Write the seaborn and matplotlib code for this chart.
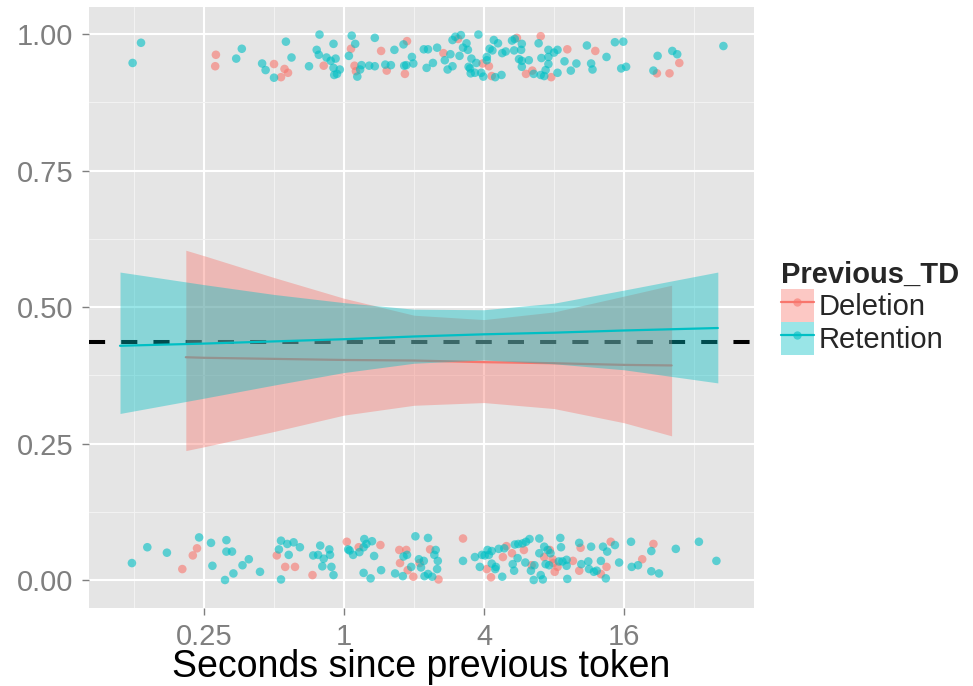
import numpy as np
import pandas as pd
import matplotlib
matplotlib.use("Agg")
import matplotlib.pyplot as plt
import seaborn as sns
from matplotlib.lines import Line2D
from matplotlib.patches import Patch

# ---------------------------------------------------------------------------
# Data: jittered observations (x stored as log2 of seconds, y = jittered outcome)
# ---------------------------------------------------------------------------
groups = ["Deletion", "Retention"]
palette = {"Deletion": "#F8766D", "Retention": "#00BFC4"}

retention_top_log2 = [
    -3.02, -2.90, -1.54, -1.46, -1.17, -1.12, -1.00, -0.83, -0.75, -0.50,
    -0.39, -0.35, -0.36, -0.25, -0.19, -0.15, -0.15, -0.12, -0.14, -0.10,
    -0.06, 0.07, 0.11, 0.16, 0.19, 0.23, 0.25, 0.36, 0.44, 0.44,
    0.59, 0.67, 0.72, 0.85, 0.86, 0.89, 0.97, 0.99, 1.14, 1.20,
    1.18, 1.27, 1.33, 1.44, 1.52, 1.48, 1.55, 1.55, 1.59, 1.67,
    1.65, 1.70, 1.75, 1.77, 1.82, 1.78, 1.80, 1.81, 1.87, 1.89,
    1.92, 1.96, 1.99, 2.04, 2.08, 2.12, 2.14, 2.16, 2.20, 2.04,
    2.25, 2.26, 2.31, 2.40, 2.43, 2.44, 2.54, 2.53, 2.50, 2.54,
    2.54, 2.64, 2.71, 2.78, 2.82, 2.81, 2.86, 2.88, 2.92, 2.92,
    2.92, 3.00, 3.05, 3.05, 3.15, 3.24, 3.32, 3.47, 3.53, 3.55,
    3.75, 3.87, 3.99, 3.96, 4.03, 4.42, 4.48, 4.69, 4.76, 5.42,
]
retention_top_y = [
    0.947, 0.984, 0.955, 0.973, 0.946, 0.934, 0.920, 0.986, 0.957, 0.941,
    0.971, 0.999, 0.962, 0.957, 0.951, 0.982, 0.938, 0.955, 0.925, 0.927,
    0.935, 0.960, 0.997, 0.982, 0.922, 0.935, 0.943, 0.942, 0.993, 0.941,
    0.944, 0.943, 0.971, 0.981, 0.942, 0.943, 0.958, 0.946, 0.972, 0.972,
    0.938, 0.947, 0.975, 0.952, 0.963, 0.935, 0.941, 0.989, 0.995, 0.998,
    0.960, 0.975, 0.983, 0.971, 0.955, 0.940, 0.937, 0.928, 0.929, 0.947,
    0.999, 0.929, 0.922, 0.952, 0.973, 0.970, 0.989, 0.921, 0.983, 0.958,
    0.925, 0.965, 0.968, 0.988, 0.970, 0.991, 0.982, 0.971, 0.954, 0.951,
    0.940, 0.952, 0.927, 0.983, 0.956, 0.925, 0.923, 0.934, 0.971, 0.958,
    0.945, 0.966, 0.971, 0.929, 0.950, 0.933, 0.946, 0.979, 0.946, 0.935,
    0.958, 0.985, 0.986, 0.937, 0.940, 0.933, 0.960, 0.969, 0.963, 0.978,
]

deletion_top_log2 = [
    -1.83, -1.84, -1.00, -0.90, -0.85, -0.80, -0.29, 0.10, 0.15, 0.17,
    0.53, 0.61, 0.90, 0.87, 1.42, 1.63, 1.98, 2.07, 2.11, 2.47,
    2.60, 2.69, 2.81, 2.96, 3.19, 3.59, 4.47, 4.65, 4.79,
]
deletion_top_y = [
    0.962, 0.941, 0.945, 0.921, 0.936, 0.929, 0.942, 0.973, 0.942, 0.932,
    0.969, 0.933, 0.987, 0.927, 0.965, 0.991, 0.946, 0.941, 0.923, 0.993,
    0.927, 0.933, 0.996, 0.921, 0.972, 0.969, 0.928, 0.928, 0.947,
]

retention_bottom_log2 = [
    -3.03, -2.81, -2.53, -2.07, -1.90, -1.88, -1.70, -1.68, -1.68, -1.60,
    -1.58, -1.45, -1.36, -1.20, -0.93, -0.90, -0.90, -0.81, -0.79, -0.72,
    -0.63, -0.44, -0.37, -0.34, -0.31, -0.29, -0.21, -0.20, -0.18, -0.15,
    0.06, 0.08, 0.13, 0.22, 0.28, 0.29, 0.32, 0.28, 0.38, 0.40,
    0.43, 0.53, 0.73, 0.85, 0.84, 0.90, 0.96, 1.02, 1.07, 1.10,
    1.14, 1.15, 1.20, 1.20, 1.26, 1.29, 1.31, 1.34, 1.33, 1.70,
    1.87, 1.94, 2.01, 2.07, 2.11, 2.11, 2.17, 1.97, 2.16, 2.05,
    2.21, 2.29, 2.26, 2.41, 2.43, 2.44, 2.49, 2.48, 2.55, 2.60,
    2.65, 2.59, 2.67, 2.72, 2.71, 2.79, 2.79, 2.81, 2.84, 2.86,
    2.88, 2.91, 2.95, 2.93, 3.09, 3.10, 3.07, 3.12, 3.18, 3.19,
    3.18, 3.36, 3.39, 3.49, 3.50, 3.53, 3.57, 3.61, 3.67, 3.70,
    3.76, 3.74, 3.87, 3.93, 4.10, 4.11, 4.20, 4.39, 4.39, 4.50,
    4.74, 5.07, 5.32,
]
retention_bottom_y = [
    0.031, 0.060, 0.050, 0.078, 0.068, 0.026, 0.000, 0.073, 0.052, 0.052,
    0.012, 0.027, 0.038, 0.015, 0.056, 0.072, 0.001, 0.066, 0.046, 0.069,
    0.060, 0.045, 0.046, 0.063, 0.025, 0.039, 0.056, 0.046, 0.024, 0.009,
    0.056, 0.054, 0.046, 0.051, 0.060, 0.075, 0.066, 0.013, 0.003, 0.071,
    0.044, 0.018, 0.012, 0.043, 0.007, 0.046, 0.024, 0.080, 0.038, 0.023,
    0.035, 0.007, 0.077, 0.011, 0.006, 0.046, 0.055, 0.035, 0.020, 0.035,
    0.042, 0.024, 0.045, 0.046, 0.053, 0.030, 0.024, 0.046, 0.020, 0.055,
    0.057, 0.058, 0.006, 0.029, 0.017, 0.065, 0.066, 0.040, 0.067, 0.070,
    0.075, 0.032, 0.017, 0.027, 0.000, 0.076, 0.049, 0.009, 0.001, 0.061,
    0.029, 0.055, 0.049, 0.027, 0.077, 0.060, 0.034, 0.034, 0.037, 0.002,
    0.026, 0.068, 0.029, 0.034, 0.020, 0.061, 0.015, 0.017, 0.035, 0.061,
    0.052, 0.003, 0.064, 0.032, 0.070, 0.024, 0.027, 0.053, 0.016, 0.012,
    0.057, 0.070, 0.035,
]

deletion_bottom_log2 = [
    -2.31, -2.16, -2.10, -0.96, -0.84, -0.70, -0.45, 0.04, 0.21, 0.52,
    0.79, 0.80, 0.89, 0.91, 0.99, 1.08, 1.23, 1.35, 1.70, 2.04,
    2.10, 2.32, 2.27, 2.40, 2.57, 2.68, 2.86, 2.94, 2.98, 3.01,
    3.05, 2.99, 3.27, 3.38, 3.36, 3.67, 3.75, 3.81, 4.26, 4.42,
]
deletion_bottom_y = [
    0.020, 0.045, 0.058, 0.045, 0.024, 0.024, 0.009, 0.070, 0.060, 0.064,
    0.055, 0.031, 0.055, 0.018, 0.006, 0.031, 0.056, 0.001, 0.076, 0.020,
    0.005, 0.062, 0.042, 0.049, 0.055, 0.027, 0.042, 0.055, 0.038, 0.015,
    0.024, 0.031, 0.035, 0.059, 0.017, 0.011, 0.024, 0.070, 0.038, 0.066,
]

# Logistic fits with 95% confidence bands (x as log2 of seconds)
deletion_fit_log2 = [-2.26, -2.0, -1.0, 0.0, 1.0, 2.0, 3.0, 4.0, 4.68]
deletion_fit = [0.408, 0.407, 0.405, 0.403, 0.402, 0.399, 0.397, 0.394, 0.393]
deletion_lower = [0.237, 0.244, 0.272, 0.302, 0.320, 0.325, 0.314, 0.288, 0.264]
deletion_upper = [0.604, 0.594, 0.554, 0.516, 0.485, 0.477, 0.491, 0.520, 0.540]

retention_fit_log2 = [-3.2, -2.0, -1.0, 0.0, 1.0, 2.0, 3.0, 4.0, 5.34]
retention_fit = [0.429, 0.433, 0.437, 0.441, 0.446, 0.450, 0.453, 0.457, 0.4615]
retention_lower = [0.305, 0.333, 0.357, 0.380, 0.397, 0.403, 0.396, 0.385, 0.361]
retention_upper = [0.564, 0.541, 0.523, 0.508, 0.496, 0.495, 0.507, 0.531, 0.564]

overall_rate = 0.435

x_ticks = [0.25, 1, 4, 16]
x_tick_labels = ["0.25", "1", "4", "16"]
y_ticks = [0.0, 0.25, 0.5, 0.75, 1.0]
y_tick_labels = ["0.00", "0.25", "0.50", "0.75", "1.00"]

# ---------------------------------------------------------------------------
# Assemble tables
# ---------------------------------------------------------------------------
def obs_frame(group, log2s, ys):
    return pd.DataFrame({"Previous_TD": group, "log2_secs": log2s, "y": ys})

points = pd.concat([
    obs_frame("Deletion", deletion_top_log2, deletion_top_y),
    obs_frame("Deletion", deletion_bottom_log2, deletion_bottom_y),
    obs_frame("Retention", retention_top_log2, retention_top_y),
    obs_frame("Retention", retention_bottom_log2, retention_bottom_y),
], ignore_index=True)
points["seconds"] = 2.0 ** points["log2_secs"]

fits = {
    "Deletion": pd.DataFrame({"log2_secs": deletion_fit_log2, "fit": deletion_fit,
                              "lower": deletion_lower, "upper": deletion_upper}),
    "Retention": pd.DataFrame({"log2_secs": retention_fit_log2, "fit": retention_fit,
                               "lower": retention_lower, "upper": retention_upper}),
}
for f in fits.values():
    f["seconds"] = 2.0 ** f["log2_secs"]

# ---------------------------------------------------------------------------
# Styling
# ---------------------------------------------------------------------------
sns.set_theme(style="darkgrid")
plt.rcParams["font.family"] = ["Liberation Sans", "DejaVu Sans"]
grey50 = "#7F7F7F"

fig = plt.figure(figsize=(9.73, 6.86), dpi=100, facecolor="white")
ax = fig.add_axes([89 / 973, 1 - 608 / 686, 665 / 973, 601 / 686])
ax.set_facecolor("#E5E5E5")

ax.set_xscale("log", base=2)
ax.set_xlim(2 ** -3.643, 2 ** 5.857)
ax.set_ylim(-0.0513, 1.0495)

# points
sns.scatterplot(data=points, x="seconds", y="y", hue="Previous_TD",
                hue_order=groups, palette=palette, s=38, alpha=0.6,
                linewidth=0, legend=False, ax=ax, zorder=2)

# reference line
ax.axhline(overall_rate, color="black", lw=2.9, dashes=(4, 4), zorder=3)

# smooths: ribbon then line, per group
z = 4
for g in groups:
    f = fits[g]
    ax.fill_between(f["seconds"], f["lower"], f["upper"], color=palette[g],
                    alpha=0.4, linewidth=0, zorder=z)
    sns.lineplot(data=f, x="seconds", y="fit", color=palette[g], lw=1.6,
                 estimator=None, sort=False, ax=ax, zorder=z + 1)
    z += 2

# grid and ticks
ax.set_xticks(x_ticks)
ax.set_xticklabels(x_tick_labels)
ax.set_xticks([0.125, 0.5, 2, 8, 32], minor=True)
ax.set_yticks(y_ticks)
ax.set_yticklabels(y_tick_labels)
ax.set_yticks([0.125, 0.375, 0.625, 0.875], minor=True)
ax.xaxis.set_minor_formatter(matplotlib.ticker.NullFormatter())
ax.set_axisbelow(True)
ax.grid(which="major", color="white", lw=1.5)
ax.grid(which="minor", color="#F2F2F2", lw=0.8)
for s in ax.spines.values():
    s.set_visible(False)

ax.tick_params(axis="both", which="major", length=5, width=1.0,
               color=grey50, labelcolor=grey50, labelsize=21,
               bottom=True, left=True)
ax.tick_params(axis="x", which="major", pad=5.5)
ax.tick_params(axis="y", which="major", pad=6.5)
ax.tick_params(which="minor", length=0)

ax.set_ylabel("")
ax.set_xlabel("Seconds since previous token", fontsize=27, color="black")
ax.xaxis.set_label_coords(0.5, -0.068)

# legend
handles = []
for g in groups:
    handles.append((
        Patch(facecolor=palette[g], alpha=0.4, edgecolor="none"),
        Line2D([], [], color=palette[g], lw=1.6),
        Line2D([], [], color=palette[g], marker="o", ls="none",
               markersize=6, markeredgewidth=0, alpha=0.6),
    ))
leg = ax.legend(handles, groups, title="Previous_TD",
                loc="upper left", bbox_to_anchor=(781 / 973, 1 - 261 / 686),
                bbox_transform=fig.transFigure, frameon=False,
                borderpad=0, borderaxespad=0, fontsize=21,
                title_fontproperties={"weight": "bold", "size": 21},
                handlelength=1.13, handleheight=1.362, handletextpad=0.15,
                labelspacing=0, alignment="left")

fig.savefig("out.png", dpi=100, facecolor="white")
